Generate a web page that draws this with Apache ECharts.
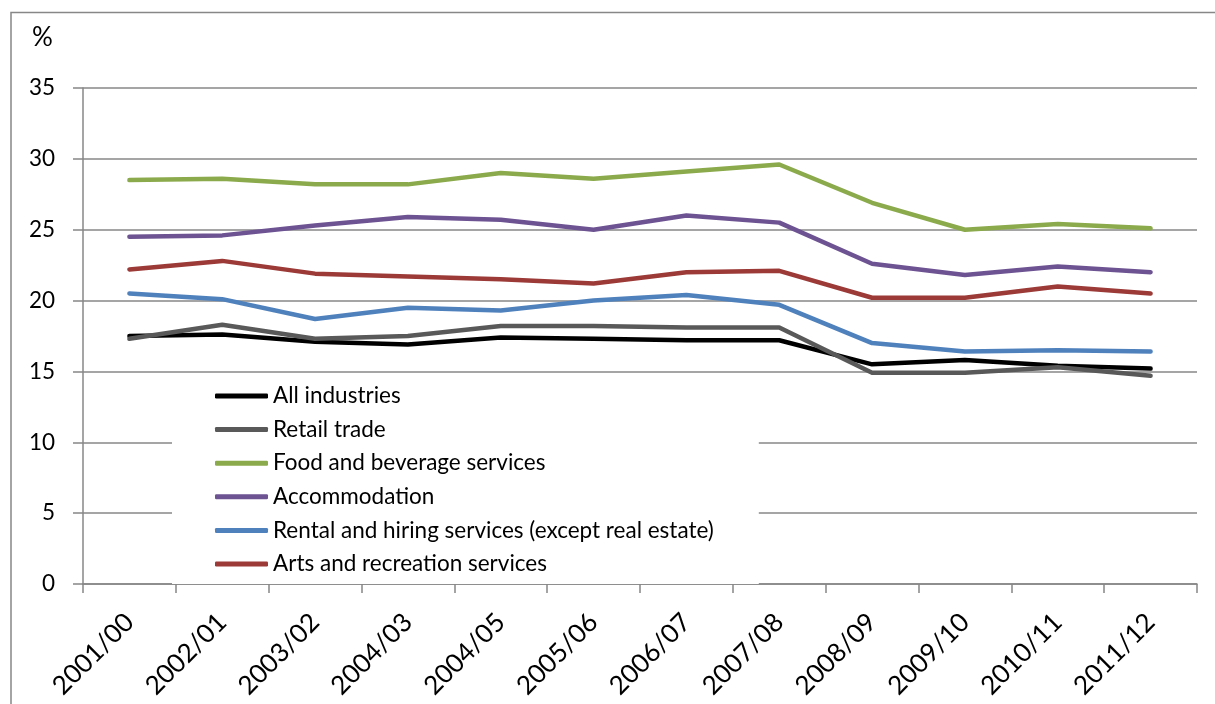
<!DOCTYPE html>
<html>
<head>
<meta charset="utf-8">
<script src="https://cdn.jsdelivr.net/npm/echarts@6/dist/echarts.min.js"></script>
<style>
  html, body { margin: 0; padding: 0; background: #fff; }
  #chart { width: 1215px; height: 704px; }
</style>
</head>
<body>
<div id="chart"></div>
<script>
// Years (x axis)
const years = ['2001/00', '2002/01', '2003/02', '2004/03', '2004/05', '2005/06',
    '2006/07', '2007/08', '2008/09', '2009/10', '2010/11', '2011/12'];

// Series names
const seriesNames = ['All industries', 'Retail trade', 'Food and beverage services',
    'Accommodation', 'Rental and hiring services (except real estate)', 'Arts and recreation services'];

// Values, %
const allIndustries = [17.5, 17.6, 17.1, 16.9, 17.4, 17.3, 17.2, 17.2, 15.5, 15.8, 15.4, 15.2];
const retailTrade = [17.3, 18.3, 17.3, 17.5, 18.2, 18.2, 18.1, 18.1, 14.9, 14.9, 15.3, 14.7];
const foodBeverage = [28.5, 28.6, 28.2, 28.2, 29.0, 28.6, 29.1, 29.6, 26.9, 25.0, 25.4, 25.1];
const accommodation = [24.5, 24.6, 25.3, 25.9, 25.7, 25.0, 26.0, 25.5, 22.6, 21.8, 22.4, 22.0];
const rentalHiring = [20.5, 20.1, 18.7, 19.5, 19.3, 20.0, 20.4, 19.7, 17.0, 16.4, 16.5, 16.4];
const artsRecreation = [22.2, 22.8, 21.9, 21.7, 21.5, 21.2, 22.0, 22.1, 20.2, 20.2, 21.0, 20.5];

const yTicks = { min: 0, max: 35, interval: 5 };

const colors = ['#000000', '#595959', '#8BAA4B', '#6D5392', '#4F81BD', '#9B3A37'];
const allData = [allIndustries, retailTrade, foodBeverage, accommodation, rentalHiring, artsRecreation];

const font = 'Lato, "Open Sans", sans-serif';
const axisGray = '#878787';

var chart = echarts.init(document.getElementById('chart'));
var option = {
    animation: false,
    color: colors,
    textStyle: { fontFamily: font },
    graphic: [
        {
            // outer chart frame (runs off the right and bottom edges)
            type: 'rect',
            shape: { x: 11, y: 12.5, width: 1260, height: 760 },
            style: { fill: 'none', stroke: axisGray, lineWidth: 1.5 },
            z: 0
        },
        {
            type: 'text',
            left: 32,
            top: 25,
            style: { text: '%', font: '26px ' + font, fill: '#000' }
        }
    ],
    grid: {
        left: 83,
        right: 18,
        top: 88,
        bottom: 120
    },
    legend: {
        orient: 'vertical',
        left: 172,
        top: 376,
        backgroundColor: '#fff',
        padding: [8, 45, 8, 43],
        itemWidth: 53,
        itemHeight: 5,
        itemGap: 9.6,
        icon: 'roundRect',
        z: 5,
        textStyle: { fontSize: 22.5, color: '#000', lineHeight: 24 },
        data: seriesNames
    },
    xAxis: {
        type: 'category',
        data: years,
        boundaryGap: true,
        axisLine: { lineStyle: { color: axisGray, width: 1.5 } },
        axisTick: { show: true, length: 9, lineStyle: { color: axisGray, width: 1.5 } },
        axisLabel: { rotate: 45, fontSize: 26, color: '#000', margin: 34, interval: 0 }
    },
    yAxis: {
        type: 'value',
        min: yTicks.min,
        max: yTicks.max,
        interval: yTicks.interval,
        axisLine: { show: true, lineStyle: { color: axisGray, width: 1.5 } },
        axisTick: { show: true, length: 10, lineStyle: { color: axisGray, width: 1.5 } },
        axisLabel: { fontSize: 22.5, color: '#000', margin: 28 },
        splitLine: { lineStyle: { color: axisGray, width: 1.5 } }
    },
    series: seriesNames.map((name, i) => ({
        name: name,
        type: 'line',
        data: allData[i],
        showSymbol: false,
        symbol: 'none',
        z: 2 + i,
        lineStyle: { width: 4.5, cap: 'round', join: 'round' }
    }))
};
chart.setOption(option);
</script>
</body>
</html>
